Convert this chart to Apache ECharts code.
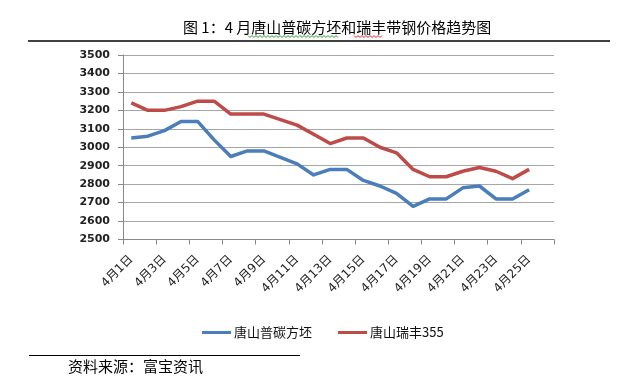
<!DOCTYPE html>
<html>
<head>
<meta charset="utf-8">
<script src="https://cdn.jsdelivr.net/npm/echarts@6/dist/echarts.min.js"></script>
<style>
html,body{margin:0;padding:0;background:#fff;}
#c{width:638px;height:388px;}
</style>
</head>
<body>
<div id="c"></div>
<script>
// categories (4/26 is an empty slot on the axis)
var categories = ['4月1日','4月2日','4月3日','4月4日','4月5日','4月6日','4月7日','4月8日','4月9日','4月10日','4月11日','4月12日','4月13日','4月14日','4月15日','4月16日','4月17日','4月18日','4月19日','4月20日','4月21日','4月22日','4月23日','4月24日','4月25日','4月26日'];
var billetName = '唐山普碳方坯';
var billet = [3050,3060,3090,3140,3140,3040,2950,2980,2980,2945,2910,2850,2880,2880,2820,2790,2750,2680,2720,2720,2780,2790,2720,2720,2770];
var stripName = '唐山瑞丰355';
var strip = [3240,3200,3200,3220,3250,3250,3180,3180,3180,3150,3120,3070,3020,3050,3050,3000,2970,2880,2840,2840,2870,2890,2870,2830,2880];
var yMin = 2500, yMax = 3500, yStep = 100;
var titleText = '图 1：4 月唐山普碳方坯和瑞丰带钢价格趋势图';
var sourceText = '资料来源：富宝资讯';

function wavy(x0, x1, y, color) {
  var pts = [];
  var up = true;
  for (var x = x0; x <= x1; x += 2) { pts.push([x, up ? y - 1 : y + 1]); up = !up; }
  return { type: 'polyline', silent: true, shape: { points: pts }, style: { stroke: color, lineWidth: 1, fill: null } };
}

var axisFont = "'DejaVu Sans','Noto Sans CJK SC',sans-serif";
var chart = echarts.init(document.getElementById('c'), null, { renderer: 'canvas' });
chart.setOption({
  animation: false,
  backgroundColor: '#fff',
  title: {
    text: titleText, left: 178, top: 15,
    textStyle: { fontSize: 15, fontWeight: 'normal', color: '#000', fontFamily: "'Noto Sans CJK SC',sans-serif" }
  },
  grid: { left: 123, right: 84, top: 55, bottom: 148.5, containLabel: false },
  legend: {
    left: 197, top: 321,
    itemWidth: 29, itemHeight: 10, itemGap: 26,
    icon: 'path://M0,4L29,4L29,7L0,7Z',
    textStyle: { fontSize: 13, color: '#111', fontFamily: "'Noto Sans CJK SC',sans-serif", padding: [0,0,0,-2] },
    data: [billetName, stripName]
  },
  xAxis: {
    type: 'category', data: categories, boundaryGap: true,
    axisLine: { show: true, lineStyle: { color: '#888', width: 1 } },
    axisTick: { show: true, interval: 1, length: 5, lineStyle: { color: '#888' } },
    axisLabel: { interval: 1, rotate: 45, margin: 18, fontSize: 12, color: '#222', fontFamily: axisFont }
  },
  yAxis: {
    type: 'value', min: yMin, max: yMax, interval: yStep,
    axisLine: { show: true, lineStyle: { color: '#888', width: 1 } },
    axisTick: { show: true, inside: false, length: 5, lineStyle: { color: '#888' } },
    axisLabel: { margin: 13, fontSize: 11, color: '#222', fontWeight: 'bold', fontFamily: axisFont,
      formatter: function (v) { return String(v); } },
    splitLine: { show: true, lineStyle: { color: '#a6a6a6', width: 1 } }
  },
  series: [
    { name: billetName, type: 'line', data: billet, symbol: 'none', color: '#4a7ebb',
      lineStyle: { width: 3.5, color: '#4a7ebb', join: 'round' } },
    { name: stripName, type: 'line', data: strip, symbol: 'none', color: '#be4b48',
      lineStyle: { width: 3.5, color: '#be4b48', join: 'round' } }
  ],
  graphic: [
    { type: 'line', silent: true, shape: { x1: 28, y1: 41, x2: 610, y2: 41 }, style: { stroke: '#000', lineWidth: 1.5 } },
    wavy(248, 338, 36.5, '#2a9a2a'),
    wavy(354, 382, 36.5, '#e02020'),
    { type: 'line', silent: true, shape: { x1: 29, y1: 355.5, x2: 300, y2: 355.5 }, style: { stroke: '#000', lineWidth: 1 } },
    { type: 'text', silent: true, left: 68, top: 359,
      style: { text: sourceText, fontSize: 15, fill: '#000', fontFamily: "'Noto Sans CJK SC',sans-serif" } }
  ]
});
</script>
</body>
</html>
